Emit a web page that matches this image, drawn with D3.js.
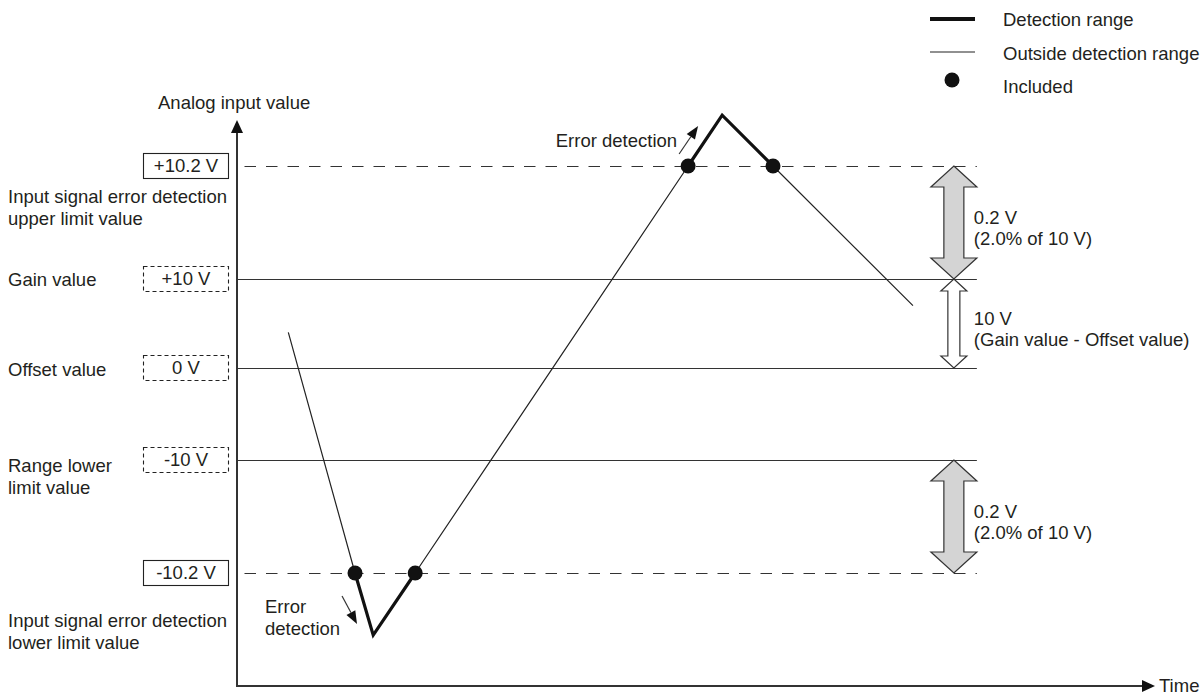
<!DOCTYPE html>
<html>
<head>
<meta charset="utf-8">
<script src="https://cdn.jsdelivr.net/npm/d3@7"></script>
<style>
	body { margin: 0; background: #fff; }
	text { font-family: "Liberation Sans", Arial, sans-serif; font-size: 18.5px; fill: #231f20; }
</style>
</head>
<body>
<div id="chart"></div>
<script>
// levels shown on the vertical axis (V)
var levelValues = [10.2, 10, 0, -10, -10.2];
var levelLabels = ["+10.2 V", "+10 V", "0 V", "-10 V", "-10.2 V"];
var levelNotes = [
	["Input signal error detection", "upper limit value"],
	["Gain value"],
	["Offset value"],
	["Range lower", "limit value"],
	["Input signal error detection", "lower limit value"]
];
var levelDashed = [true, false, false, false, true];

// analog input signal over time
var signalTime = [5.5, 12.65, 14.6, 19.1, 48.35, 52.0, 57.45, 72.45];
var signalValue = [4.0, -10.2, -10.31, -10.2, 10.2, 10.29, 10.2, 7.0];
var detectSegments = [[1, 3], [4, 6]];
var includedPoints = [1, 3, 4, 6];

var legendLabels = ["Detection range", "Outside detection range", "Included"];
var spanNotes = [
	{from: 10.2, to: 10, lines: ["0.2 V", "(2.0% of 10 V)"], kind: "gray"},
	{from: 10, to: 0, lines: ["10 V", "(Gain value - Offset value)"], kind: "white"},
	{from: -10, to: -10.2, lines: ["0.2 V", "(2.0% of 10 V)"], kind: "gray"}
];

var width = 1204;
var height = 695;
var ink = "#333";

var svg = d3.select("#chart")
	.append("svg")
		.attr("width", width)
		.attr("height", height);

var x = d3.scaleLinear()
	.domain([0, 100])
	.range([237, 1170]);

// schematic, not to scale: piecewise linear
var y = d3.scaleLinear()
	.domain([-10.2, -10, 0, 10, 10.2])
	.range([573, 460, 368, 279, 166]);

var axisBottomY = 686;
var axisTopY = 120;
var axisRightX = 1150;
var lineEndT = 79.3;

function arrow(g, x1, y1, x2, y2, len, w) {
	var a = Math.atan2(y2 - y1, x2 - x1);
	var bx = x2 - len * Math.cos(a), by = y2 - len * Math.sin(a);
	g.append("line")
		.attr("x1", x1).attr("y1", y1).attr("x2", bx).attr("y2", by)
		.attr("stroke", ink).attr("stroke-width", 1.2);
	var px = -Math.sin(a) * w / 2, py = Math.cos(a) * w / 2;
	g.append("polygon")
		.attr("points", [[x2, y2], [bx + px, by + py], [bx - px, by - py]].map(function(p) { return p.join(","); }).join(" "))
		.attr("fill", "#111");
}

function doubleArrow(cx, yTop, yBot, hw, sw, hl) {
	return [[cx, yTop], [cx + hw, yTop + hl], [cx + sw, yTop + hl], [cx + sw, yBot - hl],
		[cx + hw, yBot - hl], [cx, yBot], [cx - hw, yBot - hl], [cx - sw, yBot - hl],
		[cx - sw, yTop + hl], [cx - hw, yTop + hl]].map(function(p) { return p.join(","); }).join(" ");
}

// level lines
svg.selectAll(".level")
	.data(levelValues)
	.enter()
	.append("line")
		.attr("class", "level")
		.attr("x1", x(0))
		.attr("x2", x(lineEndT))
		.attr("y1", function(d) { return y(d) + 0.5; })
		.attr("y2", function(d) { return y(d) + 0.5; })
		.attr("stroke", ink)
		.attr("stroke-width", 1.2)
		.attr("stroke-dasharray", function(d, i) { return levelDashed[i] ? "11.5,10" : null; })
		.attr("stroke-dashoffset", function(d, i) { return levelDashed[i] ? 14 : null; });

// value boxes
var boxes = svg.selectAll(".box")
	.data(levelValues)
	.enter()
	.append("g")
		.attr("class", "box")
		.attr("transform", function(d) { return "translate(186," + y(d) + ")"; });
boxes.append("rect")
	.attr("x", -42.5)
	.attr("y", -12.5)
	.attr("width", 85)
	.attr("height", 25)
	.attr("fill", "none")
	.attr("stroke", "#222")
	.attr("stroke-width", 1.1)
	.attr("stroke-dasharray", function(d, i) { return levelDashed[i] ? null : "4,3"; });
boxes.append("text")
	.attr("text-anchor", "middle")
	.attr("dy", "0.35em")
	.text(function(d, i) { return levelLabels[i]; });

// notes on the left
var noteDy = [37, 7, 8, 12, 54];
levelValues.forEach(function(v, i) {
	var t = svg.append("text")
		.attr("x", 8)
		.attr("y", y(v) + noteDy[i]);
	levelNotes[i].forEach(function(s, k) {
		t.append("tspan").attr("x", 8).attr("dy", k === 0 ? 0 : 22).text(s);
	});
});

// axes
var axes = svg.append("g");
axes.append("line")
	.attr("x1", x(0)).attr("x2", x(0))
	.attr("y1", axisBottomY).attr("y2", axisTopY + 10)
	.attr("stroke", ink).attr("stroke-width", 2);
axes.append("line")
	.attr("x1", x(0) - 1).attr("x2", axisRightX - 4)
	.attr("y1", axisBottomY).attr("y2", axisBottomY)
	.attr("stroke", ink).attr("stroke-width", 2);
axes.append("polygon")
	.attr("points", [[x(0), axisTopY], [x(0) + 6, axisTopY + 13], [x(0) - 6, axisTopY + 13]].join(" "))
	.attr("fill", "#111");
axes.append("polygon")
	.attr("points", [[axisRightX + 5, axisBottomY], [axisRightX - 8, axisBottomY - 6], [axisRightX - 8, axisBottomY + 6]].join(" "))
	.attr("fill", "#111");
axes.append("text")
	.attr("x", 158)
	.attr("y", 109)
	.text("Analog input value");
axes.append("text")
	.attr("x", axisRightX + 9)
	.attr("y", axisBottomY + 6)
	.text("Time");

// signal
var pts = signalTime.map(function(t, i) { return [x(t), y(signalValue[i])]; });
var line = d3.line();
svg.append("path")
	.attr("d", line(pts))
	.attr("fill", "none")
	.attr("stroke", "#222")
	.attr("stroke-width", 1.2);
detectSegments.forEach(function(s) {
	svg.append("path")
		.attr("d", line(pts.slice(s[0], s[1] + 1)))
		.attr("fill", "none")
		.attr("stroke", "#111")
		.attr("stroke-width", 3.2)
		.attr("stroke-linejoin", "miter");
});
svg.selectAll(".dot")
	.data(includedPoints)
	.enter()
	.append("circle")
		.attr("class", "dot")
		.attr("cx", function(i) { return pts[i][0]; })
		.attr("cy", function(i) { return pts[i][1]; })
		.attr("r", 7.5)
		.style("fill", "#111");

// error detection annotations
var up = pts[4], dn = pts[1];
arrow(svg, up[0] - 9, up[1] - 12, up[0] + 10, up[1] - 40, 13, 10);
svg.append("text")
	.attr("x", up[0] - 11)
	.attr("y", up[1] - 19)
	.attr("text-anchor", "end")
	.text("Error detection");
arrow(svg, dn[0] - 13, dn[1] + 23, dn[0] + 2, dn[1] + 51, 13, 10);
svg.append("text")
	.attr("x", 265)
	.attr("y", dn[1] + 40)
	.text("Error")
	.append("tspan").attr("x", 265).attr("dy", 22).text("detection");

// span arrows on the right
var cx = x(lineEndT) - 23;
spanNotes.forEach(function(s) {
	var y0 = y(s.from), y1 = y(s.to);
	var gray = s.kind === "gray";
	svg.append("polygon")
		.attr("points", gray ? doubleArrow(cx, y0, y1, 23, 10, 21) : doubleArrow(cx, y0, y1, 13, 6, 12))
		.attr("fill", gray ? "#d4d4d4" : "#fff")
		.attr("stroke", ink)
		.attr("stroke-width", 1.2);
	var mid = (y0 + y1) / 2;
	var t = svg.append("text").attr("x", x(lineEndT) - 3).attr("y", mid + 1);
	s.lines.forEach(function(l, k) {
		t.append("tspan").attr("x", x(lineEndT) - 3).attr("dy", k === 0 ? 0 : 21).text(l);
	});
});

// legend
var legend = svg.append("g");
var legendY = [19, 52, 80];
var legendTextY = [26, 60, 93];
legend.append("line")
	.attr("x1", 930).attr("x2", 975).attr("y1", legendY[0]).attr("y2", legendY[0])
	.attr("stroke", "#111").attr("stroke-width", 4);
legend.append("line")
	.attr("x1", 930).attr("x2", 975).attr("y1", legendY[1]).attr("y2", legendY[1])
	.attr("stroke", "#222").attr("stroke-width", 1.2);
legend.append("circle")
	.attr("cx", 952).attr("cy", legendY[2]).attr("r", 7.5)
	.style("fill", "#111");
legend.selectAll(".ltext")
	.data(legendLabels)
	.enter()
	.append("text")
		.attr("class", "ltext")
		.attr("x", 1003)
		.attr("y", function(d, i) { return legendTextY[i]; })
		.text(function(d) { return d; });
</script>
</body>
</html>
